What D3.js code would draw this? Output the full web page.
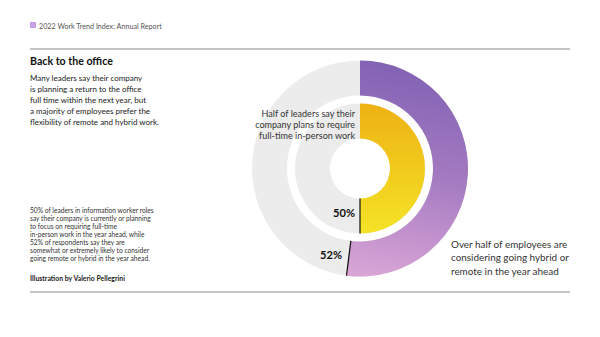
<!DOCTYPE html>
<html><head><meta charset="utf-8">
<script src="https://cdn.jsdelivr.net/npm/d3@7"></script>
<style>
html,body{margin:0;padding:0;background:#fff;}
svg{display:block;}
text{font-family:Lato,"Open Sans",sans-serif;}
</style></head>
<body>
<svg id="c" width="600" height="337"></svg>
<script>
// ---- data ----
const ringNames = ["Leaders", "Employees"];
const ringShares = [50, 52];            // percent
const ringLabels = ["50%", "52%"];
const headerText = "2022 Work Trend Index: Annual Report";
const titleText = "Back to the office";
const introLines = ["Many leaders say their company","is planning a return to the office","full time within the next year, but","a majority of employees prefer the","flexibility of remote and hybrid work."];
const noteLines = ["50% of leaders in information worker roles","say their company is currently or planning","to focus on requiring full-time","in-person work in the year ahead, while","52% of respondents say they are","somewhat or extremely likely to consider","going remote or hybrid in the year ahead."];
const creditText = "Illustration by Valerio Pellegrini";
const leaderNote = ["Half of leaders say their","company plans to require","full-time in-person work"];
const employeeNote = ["Over half of employees are","considering going hybrid or","remote in the year ahead"];

const svg = d3.select("#c");
const defs = svg.append("defs");

// fit a block's font size so that its widest line gets the target width
function fitText(sel, target) {
  let maxW = 0;
  sel.each(function(){ maxW = Math.max(maxW, this.getComputedTextLength()); });
  const fs = parseFloat(sel.attr("font-size"));
  sel.attr("font-size", fs * target / maxW);
}

// header
svg.append("rect").attr("x",30).attr("y",22).attr("width",6).attr("height",6).attr("fill","#c89ee8");
const hdr = svg.append("text").attr("x",39).attr("y",28.5).attr("font-size",9).attr("fill","#555").text(headerText);
fitText(hdr, 123);
svg.append("line").attr("x1",30).attr("x2",570).attr("y1",49).attr("y2",49).attr("stroke","#8a8a8a").attr("stroke-width",1);
svg.append("line").attr("x1",30).attr("x2",570).attr("y1",292).attr("y2",292).attr("stroke","#8a8a8a").attr("stroke-width",1);

const title = svg.append("text").attr("x",30).attr("y",65).attr("font-size",12).attr("font-weight",700).attr("fill","#111").text(titleText);
fitText(title, 83);

const intro = svg.selectAll(".intro").data(introLines).join("text").attr("class","intro")
  .attr("x",30).attr("y",(d,i)=>80.5+i*11.1).attr("font-size",9).attr("fill","#222").text(d=>d);
fitText(intro, 129);

const note = svg.selectAll(".note").data(noteLines).join("text").attr("class","note")
  .attr("x",30).attr("y",(d,i)=>212.5+i*8.05).attr("font-size",7).attr("fill","#333").text(d=>d);
fitText(note, 124);

const credit = svg.append("text").attr("x",30).attr("y",280.5).attr("font-size",7).attr("font-weight",700).attr("fill","#222").text(creditText);
fitText(credit, 95);

// ---- rings ----
const cx = 360, cy = 168.5;
const radii = [[30, 65], [73, 108]];
const angle = d3.scaleLinear().domain([0, 100]).range([0, 2*Math.PI]);

// gradients (coordinates local to ring group)
const gP = defs.append("linearGradient").attr("id","gP").attr("gradientUnits","userSpaceOnUse")
  .attr("x1",20).attr("y1",-108).attr("x2",-20).attr("y2",108);
gP.append("stop").attr("offset",0).attr("stop-color","#8262b4");
gP.append("stop").attr("offset",0.5).attr("stop-color","#a67cc2");
gP.append("stop").attr("offset",1).attr("stop-color","#dca7d7");
const gY = defs.append("linearGradient").attr("id","gY").attr("gradientUnits","userSpaceOnUse")
  .attr("x1",0).attr("y1",-65).attr("x2",0).attr("y2",65);
gY.append("stop").attr("offset",0).attr("stop-color","#edae0a");
gY.append("stop").attr("offset",1).attr("stop-color","#f4e21e");
const pat = defs.append("pattern").attr("id","dots").attr("patternUnits","userSpaceOnUse").attr("width",2).attr("height",2);
pat.append("rect").attr("width",1).attr("height",1).attr("fill","#fff").attr("opacity",0.15);

const fills = ["url(#gY)", "url(#gP)"];
const g = svg.append("g").attr("transform",`translate(${cx},${cy})`);
ringShares.forEach((v,i)=>{
  const arc = d3.arc().innerRadius(radii[i][0]).outerRadius(radii[i][1]);
  g.append("path").attr("d", arc({startAngle:0,endAngle:2*Math.PI})).attr("fill","#ececec");
  g.append("path").attr("d", arc({startAngle:0,endAngle:angle(v)})).attr("fill",fills[i]);
  if (i===0) g.append("path").attr("d", arc({startAngle:0,endAngle:angle(v)})).attr("fill","url(#dots)");
  const a = angle(v);
  g.append("line")
    .attr("x1", Math.sin(a)*radii[i][0]).attr("y1", -Math.cos(a)*radii[i][0])
    .attr("x2", Math.sin(a)*radii[i][1]).attr("y2", -Math.cos(a)*radii[i][1])
    .attr("stroke","#111").attr("stroke-width",1.2);
});

// percentage labels
const pctPos = [[355-cx, 217-cy], [342-cx, 259-cy]];
ringLabels.forEach((t,i)=>{
  const tx = g.append("text").attr("x",pctPos[i][0]).attr("y",pctPos[i][1]).attr("text-anchor","end")
    .attr("font-size",12).attr("font-weight",700).attr("fill","#111").text(t);
  fitText(tx, 22);
});

const ln = svg.selectAll(".ln").data(leaderNote).join("text").attr("class","ln")
  .attr("x",355).attr("y",(d,i)=>117+i*11.2).attr("text-anchor","end").attr("font-size",10).attr("fill","#333").text(d=>d);
fitText(ln, 100);

const en = svg.selectAll(".en").data(employeeNote).join("text").attr("class","en")
  .attr("x",451).attr("y",(d,i)=>247.5+i*13.5).attr("font-size",11).attr("fill","#333").text(d=>d);
fitText(en, 118);
</script>
</body></html>
